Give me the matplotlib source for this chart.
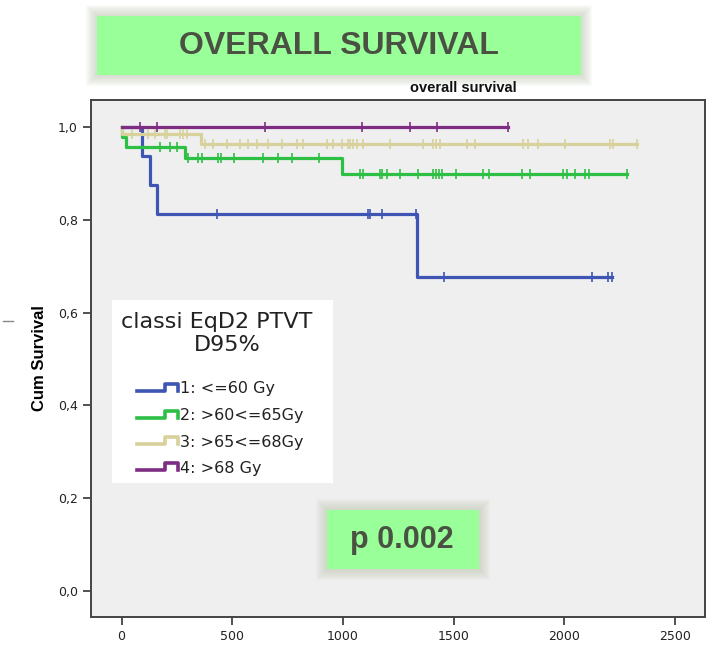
import numpy as np
import matplotlib
matplotlib.use("Agg")
import matplotlib.pyplot as plt
from matplotlib.patches import Rectangle
from matplotlib.lines import Line2D

# survival steps (time in days, cumulative survival) and censored times per group
groups = ["1: <=60 Gy", "2: >60<=65Gy", "3: >65<=68Gy", "4: >68 Gy"]
colors = ["#3e55b4", "#2ebf45", "#d8d19c", "#7e2d82"]

t1 = [0, 94, 129, 159, 1335, 2214]
s1 = [1.0, 0.9375, 0.875, 0.8125, 0.677, 0.677]
c1 = [430, 1112, 1122, 1177, 1330, 1454, 2124, 2199, 2214]

t2 = [0, 2, 19, 287, 995, 2282]
s2 = [1.0, 0.978, 0.956, 0.932, 0.898, 0.898]
c2 = [174, 219, 252, 299, 347, 362, 437, 448, 508, 640, 708, 768, 893,
      1077, 1092, 1167, 1175, 1198, 1258, 1341, 1408, 1420, 1435, 1446,
      1511, 1634, 1661, 1808, 1845, 1995, 2013, 2048, 2093, 2113, 2282]

t3 = [0, 2, 359, 2327]
s3 = [1.0, 0.985, 0.963, 0.963]
c3 = [46, 121, 151, 196, 204, 264, 279, 294, 377, 415, 475, 535, 573, 610,
      663, 723, 791, 821, 927, 957, 995, 1024, 1032, 1047, 1062, 1092, 1212,
      1363, 1408, 1420, 1439, 1559, 1597, 1815, 1837, 1883, 2003, 2206,
      2221, 2327]

t4 = [0, 1747]
s4 = [1.0, 1.0]
c4 = [83, 159, 648, 1085, 1303, 1424, 1747]

xticks = [0, 500, 1000, 1500, 2000, 2500]
yticks = [0.0, 0.2, 0.4, 0.6, 0.8, 1.0]
ylabels = ["0,0", "0,2", "0,4", "0,6", "0,8", "1,0"]

W, H = 716, 645


def fx(x):
    return x / W


def fy(y):
    return 1 - y / H


def shadow_box(fig, x0, y0, x1, y1, face):
    # soft shadow made of stacked translucent rectangles
    for i in range(11, 0, -1):
        fig.add_artist(Rectangle((fx(x0 - i), fy(y1 + i)), (x1 - x0 + 2 * i) / W,
                                 (y1 - y0 + 2 * i) / H, transform=fig.transFigure,
                                 facecolor="#c3ccb6", edgecolor="none", alpha=0.075))
    fig.add_artist(Rectangle((fx(x0), fy(y1)), (x1 - x0) / W, (y1 - y0) / H,
                             transform=fig.transFigure, facecolor=face, edgecolor="none"))


fig = plt.figure(figsize=(W / 100, H / 100), dpi=100)
fig.patch.set_facecolor("white")
ax = fig.add_axes([fx(91), fy(617), (705 - 91) / W, (617 - 100) / H])
ax.set_facecolor("#efefef")

for t, s, c, col in zip([t1, t2, t3, t4], [s1, s2, s3, s4], [c1, c2, c3, c4], colors):
    ax.step(t, s, where="post", color=col, lw=2.3, zorder=3)
    idx = np.searchsorted(t, c, side="right") - 1
    ax.plot(c, np.array(s)[idx], ls="none", marker="|", ms=6.5, mew=1.2,
            color=col, zorder=4)

ax.set_xlim(-138, 2635)
ax.set_ylim(-0.056, 1.058)
ax.set_xticks(xticks)
ax.set_xticklabels([str(v) for v in xticks])
ax.set_yticks(yticks)
ax.set_yticklabels(ylabels)
ax.tick_params(direction="out", length=6, width=1.2, colors="#333333",
               labelsize=9, labelcolor="#222222")
for sp in ax.spines.values():
    sp.set_color("#444444")
    sp.set_linewidth(1.4)
ax.set_ylabel("Cum Survival", fontsize=12, fontweight="bold",
              family="Liberation Sans", labelpad=8)

# legend box
fig.add_artist(Rectangle((fx(112), fy(483)), (333 - 112) / W, (483 - 300) / H,
                         transform=fig.transFigure, facecolor="white",
                         edgecolor="none", zorder=5))
fig.text(fx(121), fy(322), "classi EqD2 PTVT", fontsize=16, color="#222222",
         va="center", ha="left", zorder=6)
fig.text(fx(227), fy(345), "D95%", fontsize=16, color="#222222",
         va="center", ha="center", zorder=6)
ly = [389, 415.5, 442, 468]
for lab, col, y in zip(groups, colors, ly):
    xs = [137, 165, 165, 178, 178]
    ys = [y + 2, y + 2, y - 5, y - 5, y + 2]
    fig.add_artist(Line2D([fx(v) for v in xs], [fy(v) for v in ys], color=col,
                          lw=2.6, transform=fig.transFigure, zorder=6))
    fig.text(fx(180), fy(y), lab, fontsize=11.5, color="#222222",
             va="center", ha="left", zorder=6)

# title and p-value boxes
shadow_box(fig, 97, 16, 581, 75, "#99ff99")
fig.text(fx(339), fy(46), "OVERALL SURVIVAL", fontsize=23, fontweight="bold",
         family="Liberation Sans", color="#4b5142", ha="center", va="center")
fig.text(fx(463), fy(88), "overall survival", fontsize=10.5, fontweight="bold",
         family="Liberation Sans", color="#111111", ha="center", va="center")

shadow_box(fig, 327, 510, 479, 569, "#99ff99")
fig.text(fx(402), fy(540), "p 0.002", fontsize=22, fontweight="bold",
         family="Liberation Sans", color="#4b5142", ha="center", va="center")

fig.add_artist(Line2D([fx(3), fx(13)], [fy(321), fy(321)], color="#888888",
                      lw=1, transform=fig.transFigure))

fig.savefig("out.png", dpi=100)
